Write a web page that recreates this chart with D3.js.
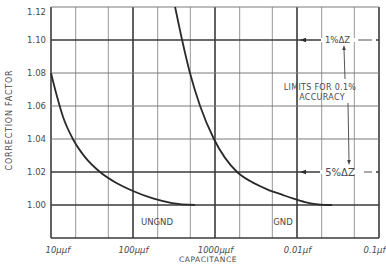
<!DOCTYPE html>
<html>
<head>
<meta charset="utf-8">
<title>Correction factor</title>
<script src="https://cdnjs.cloudflare.com/ajax/libs/d3/7.8.5/d3.min.js"></script>
<style>
  body { margin: 0; background: #fff; }
  text { font-family: "DejaVu Sans", sans-serif; fill: #4a4a4a; }
</style>
</head>
<body>
<script>
// capacitance in µµf (pF), correction factor
var ungnd = [[10, 1.080], [11.8, 1.066], [14, 1.0535], [18.5, 1.040], [26, 1.029],
             [39.6, 1.020], [62, 1.0135], [100, 1.0085], [175, 1.004], [300, 1.0012], [570, 1.000]];
var gnd = [[326, 1.120], [397, 1.100], [495, 1.080], [658, 1.060], [970, 1.040],
           [1860, 1.020], [2680, 1.0145], [4320, 1.0095], [6780, 1.006], [8900, 1.004],
           [12500, 1.0018], [18000, 1.0004], [26800, 1.000]];

var xTicks = [10, 100, 1000, 10000, 100000];
var xLabels = ["10µµf", "100µµf", "1000µµf", "0.01µf", "0.1µf"];
var yTicks = [1.00, 1.02, 1.04, 1.06, 1.08, 1.10, 1.12];
var yLabels = ["1.00", "1.02", "1.04", "1.06", "1.08", "1.10", "1.12"];
var yGrid = [0.98, 1.00, 1.02, 1.04, 1.06, 1.08, 1.10, 1.12];
var yBold = [0.98, 1.00, 1.02, 1.10];

var W = 386, H = 265;
var svg = d3.select("body").append("svg").attr("width", W).attr("height", H);

var x = d3.scaleLog().domain([10, 100000]).range([51, 379]);
var y = d3.scaleLinear().domain([0.98, 1.12]).range([238, 7]);

// vertical grid: decades bold, 2 and 5 thin
var xGrid = [];
xTicks.forEach(function (d, i) {
  xGrid.push({v: d, bold: true});
  if (i < xTicks.length - 1) { xGrid.push({v: d * 2, bold: false}); xGrid.push({v: d * 5, bold: false}); }
});

svg.append("g").selectAll("line").data(xGrid).enter().append("line")
  .attr("x1", function (d) { return x(d.v); }).attr("x2", function (d) { return x(d.v); })
  .attr("y1", y(1.12)).attr("y2", y(0.98))
  .attr("stroke", function (d) { return d.bold ? "#3a3a3a" : "#8a8a8a"; })
  .attr("stroke-width", function (d) { return d.bold ? 1.6 : 0.9; });

svg.append("g").selectAll("line").data(yGrid).enter().append("line")
  .attr("x1", x(10)).attr("x2", x(100000))
  .attr("y1", function (d) { return y(d); }).attr("y2", function (d) { return y(d); })
  .attr("stroke", function (d) { return yBold.indexOf(d) >= 0 ? "#3a3a3a" : "#7a7a7a"; })
  .attr("stroke-width", function (d) { return yBold.indexOf(d) >= 0 ? 1.6 : 1.0; });

// axes
var xAxis = svg.append("g").attr("transform", "translate(0," + (y(0.98) + 9) + ")")
  .call(d3.axisBottom(x).tickValues(xTicks).tickSize(0).tickPadding(0)
        .tickFormat(function (d, i) { return xLabels[i]; }));
xAxis.select(".domain").remove();
xAxis.selectAll("text").attr("font-size", 8.5).attr("font-style", "italic").attr("fill", "#4a4a4a")
  .attr("text-anchor", function (d, i) { return i === 0 ? "start" : (i === xTicks.length - 1 ? "end" : "middle"); })
  .attr("dx", function (d, i) { return i === 0 ? -6 : (i === xTicks.length - 1 ? 6 : 0); });

var yAxis = svg.append("g").attr("transform", "translate(" + x(10) + ",0)")
  .call(d3.axisLeft(y).tickValues(yTicks).tickSize(0).tickPadding(5)
        .tickFormat(function (d, i) { return yLabels[i]; }));
yAxis.select(".domain").remove();
yAxis.selectAll("text").attr("font-size", 8.5).attr("fill", "#4a4a4a")
  .attr("dy", function (d) { return d === 1.12 ? "0.9em" : "0.32em"; });

svg.append("text").attr("x", 208).attr("y", 262).attr("text-anchor", "middle")
  .attr("font-size", 7.5).attr("letter-spacing", 0.6).text("CAPACITANCE");
svg.append("text").attr("transform", "translate(12,120) rotate(-90)").attr("text-anchor", "middle")
  .attr("font-size", 8).attr("letter-spacing", 0.8).text("CORRECTION FACTOR");

// curves
var line = d3.line().x(function (d) { return x(d[0]); }).y(function (d) { return y(d[1]); })
  .curve(d3.curveMonotoneX);
[ungnd, gnd].forEach(function (s) {
  svg.append("path").datum(s).attr("d", line).attr("fill", "none")
    .attr("stroke", "#2a2a2a").attr("stroke-width", 1.8);
});

svg.append("text").attr("x", 157).attr("y", 225).attr("text-anchor", "middle")
  .attr("font-size", 8.5).text("UNGND");
svg.append("text").attr("x", 283).attr("y", 225).attr("text-anchor", "middle")
  .attr("font-size", 8.5).text("GND");

// limit annotations
function limitMark(level, label, fs, tx0, tx1) {
  var yy = y(level);
  svg.append("rect").attr("x", tx0).attr("y", yy - 2).attr("width", 376 - tx0).attr("height", 4).attr("fill", "#fff");
  svg.append("path").attr("d", "M300," + yy + "l6,-2.2v4.4z").attr("fill", "#2a2a2a");
  svg.append("text").attr("x", (tx0 + tx1) / 2).attr("y", yy + fs * 0.36).attr("text-anchor", "middle")
    .attr("font-size", fs).text(label);
  svg.append("line").attr("x1", tx1 + 4).attr("x2", 372).attr("y1", yy).attr("y2", yy)
    .attr("stroke", "#555").attr("stroke-width", 1);
}
limitMark(1.10, "1%\u0394Z", 8.5, 321, 354);
limitMark(1.02, "5%\u0394Z", 10, 320, 360);

svg.append("text").attr("x", 320).attr("y", 90).attr("text-anchor", "middle")
  .attr("font-size", 8).attr("letter-spacing", 0.3).text("LIMITS FOR 0.1%");
svg.append("text").attr("x", 322).attr("y", 100).attr("text-anchor", "middle")
  .attr("font-size", 8).attr("letter-spacing", 0.3).text("ACCURACY");

svg.append("line").attr("x1", 345).attr("y1", 79).attr("x2", 344).attr("y2", 49)
  .attr("stroke", "#555").attr("stroke-width", 1);
svg.append("path").attr("d", "M344,45l-1.8,5h3.6z").attr("fill", "#444");
svg.append("line").attr("x1", 348).attr("y1", 103).attr("x2", 349).attr("y2", 161)
  .attr("stroke", "#555").attr("stroke-width", 1);
svg.append("path").attr("d", "M349,165l-1.8,-5h3.6z").attr("fill", "#444");
</script>
</body>
</html>
